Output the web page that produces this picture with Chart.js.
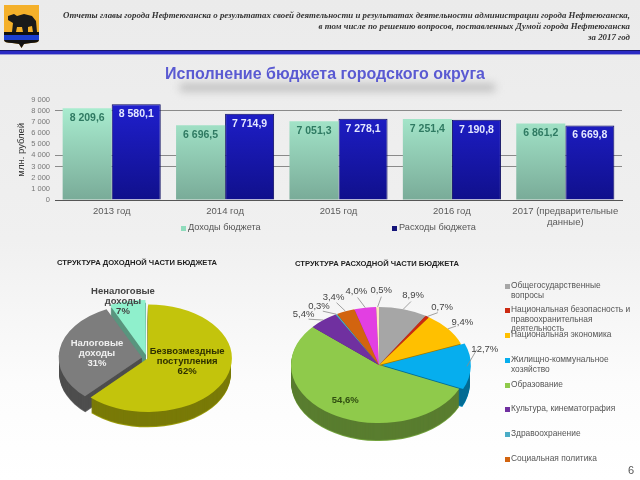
<!DOCTYPE html>
<html lang="ru">
<head>
<meta charset="utf-8">
<title>Исполнение бюджета</title>
<script src="https://cdn.jsdelivr.net/npm/chart.js@4"></script>
<style>
html,body{margin:0;padding:0;}
body{width:640px;height:480px;overflow:hidden;position:relative;font-family:"Liberation Sans",Arial,sans-serif;
  background:linear-gradient(#ebebeb 0,#f0f0f0 50%,#fcfcfc 80%,#fff 100%);filter:blur(0.35px);}
canvas{position:absolute;}
.abs{position:absolute;}
#head{right:10px;top:10px;width:600px;text-align:right;white-space:nowrap;font:italic bold 8.85px/10.8px "Liberation Serif",serif;color:#333;}
#rule{left:0;top:50px;width:640px;height:3px;background:#2a2ac4;border-top:1px solid #15156e;border-bottom:1px solid #9a9ad8;}
#title{left:0;width:650px;top:65px;text-align:center;font:bold 16px "Liberation Sans",sans-serif;color:#5a5ad2;}
#shade{left:180px;top:84px;width:315px;height:7px;background:#b9b9b9;filter:blur(4px);}
.ptitle{font:bold 7.6px "Liberation Sans",sans-serif;color:#222;white-space:nowrap;}
.leg{font-size:8.4px;line-height:9.6px;color:#555;white-space:pre-line;}
.sw{position:absolute;width:5px;height:5px;}
</style>
</head>
<body>
<svg class="abs" style="left:4px;top:5px" width="35" height="43" viewBox="0 0 35 43">
  <path d="M0 0H35V35Q35 38 27 38L20 39L17.500 43L15 39L8 38Q0 38 0 35Z" fill="#f4b02a"/>
  <path d="M0 27H35V35Q35 38 27 38L20 39L17.500 43L15 39L8 38Q0 38 0 35Z" fill="#111"/>
  <rect x="0" y="30" width="35" height="5" fill="#1c3fd0"/>
  <path d="M4 11L10 9L13 11L20 9L28 11L32 16L33 27H29L28 21L24 22L24 27H19L18 22L13 22L12 27H8L9 18L4 15Z" fill="#1a1a1a"/>
</svg>
<div id="head" class="abs">Отчеты главы города Нефтеюганска о результатах своей деятельности и результатах деятельности администрации города Нефтеюганска,<br>в том числе по решению вопросов, поставленных Думой города Нефтеюганска<br>за 2017 год</div>
<div id="rule" class="abs"></div>
<div id="shade" class="abs"></div>
<div id="title" class="abs">Исполнение бюджета городского округа</div>

<canvas id="barChart" width="640" height="145" style="left:0;top:90px"></canvas>
<div id="barLegend"></div>

<div class="abs ptitle" style="left:57px;top:258px">СТРУКТУРА ДОХОДНОЙ ЧАСТИ БЮДЖЕТА</div>
<div class="abs ptitle" style="left:295px;top:259px">СТРУКТУРА РАСХОДНОЙ ЧАСТИ БЮДЖЕТА</div>
<canvas id="incomePie" width="220" height="200" style="left:37px;top:258px"></canvas>
<canvas id="spendPie" width="260" height="220" style="left:249px;top:255px"></canvas>
<div id="pieLegend"></div>
<div class="abs" style="left:628px;top:464px;font-size:11px;color:#555">6</div>

<script>
const years = ['2013 год','2014 год','2015 год','2016 год',['2017 (предварительные','данные)']];
const incomeByYear = [8209.6,6696.5,7051.3,7251.4,6861.2];
const spendByYear = [8580.1,7714.9,7278.1,7190.8,6669.8];
const yTickLabels = ['0','1 000','2 000','3 000','4 000','5 000','6 000','7 000','8 000','9 000'];
const visibleGrid = [3000,4000,8000];

const incomeParts = ['Безвозмездные поступления','Налоговые доходы','Неналоговые доходы'];
const incomeShares = [62,31,7];
const incomeColors = ['#c3c40c','#7d7d7d','#8ff0cc'];

const spendParts = ['Общегосударственные вопросы','Национальная безопасность и правоохранительная деятельность','Национальная экономика','Жилищно-коммунальное хозяйство','Образование','Культура, кинематография','Здравоохранение','Социальная политика','Физическая культура и спорт','Средства массовой информации'];
const spendShares = [8.9,0.7,9.4,12.7,54.6,5.4,0.3,3.4,4.0,0.5];
const spendColors = ['#a6a6a6','#cc2a12','#ffc000','#06aeee','#8fca4b','#7030a0','#4bacc6','#d2640f','#e23fe2','#fbe6bd'];

function fmt(v){ return v.toFixed(1).replace('.',',').replace(/^(\d)(\d{3})/,'$1 $2'); }
function shade(hex,f){
  const n = parseInt(hex.slice(1),16);
  return 'rgb('+Math.round((n>>16)*f)+','+Math.round(((n>>8)&255)*f)+','+Math.round((n&255)*f)+')';
}
function barFill(top,bottom){
  return function(c){
    const area = c.chart.chartArea;
    if(!area) return top;
    const g = c.chart.ctx.createLinearGradient(0,area.top,0,area.bottom);
    g.addColorStop(0,top);
    g.addColorStop(1,bottom);
    return g;
  };
}

// value labels inside the top of each bar
const barLabels = {
  id:'barLabels',
  afterDatasetsDraw(chart){
    const ctx = chart.ctx;
    ctx.save();
    ctx.font = 'bold 10.5px "Liberation Sans"';
    ctx.textAlign = 'center';
    ctx.textBaseline = 'middle';
    chart.data.datasets.forEach((ds,d)=>{
      ctx.fillStyle = d==0 ? '#2f7a62' : '#e4e8ff';
      chart.getDatasetMeta(d).data.forEach((bar,i)=>{
        ctx.fillText(fmt(ds.data[i]),bar.x,bar.y+10);
      });
    });
    ctx.restore();
  }
};

new Chart(document.getElementById('barChart'),{
  type:'bar',
  data:{
    labels:years,
    datasets:[
      {label:'Доходы бюджета',data:incomeByYear,backgroundColor:barFill('#adf2d4','#79ab98'),borderWidth:0,barPercentage:1,categoryPercentage:0.865},
      {label:'Расходы бюджета',data:spendByYear,backgroundColor:barFill('#2020d0','#10108c'),borderColor:'#0a0a60',borderWidth:1,barPercentage:1,categoryPercentage:0.865}
    ]
  },
  options:{
    responsive:false,
    animation:false,
    layout:{padding:{top:8,right:18,left:0,bottom:0}},
    plugins:{legend:{display:false},tooltip:{enabled:false}},
    scales:{
      x:{
        grid:{display:false,drawTicks:false},
        border:{color:'#555'},
        ticks:{color:'#5a5a5a',font:{size:9.5,family:'Liberation Sans',lineHeight:1.15},maxRotation:0,padding:6,autoSkip:false},
        afterFit(s){ s.height = 35; }
      },
      y:{
        min:0,max:9000,
        grid:{color:c=>visibleGrid.includes(c.tick.value)?'#8a8a8a':'transparent',drawTicks:false},
        border:{display:false},
        ticks:{stepSize:1000,autoSkip:false,color:'#777',font:{size:7.5,family:'Liberation Sans'},padding:5,callback:(v,i)=>yTickLabels[i]},
        title:{display:true,text:'млн. рублей',color:'#333',font:{size:9.5,family:'Liberation Sans'},padding:{top:16,bottom:0}},
        afterFit(s){ s.width = 55; }
      }
    }
  },
  plugins:[barLabels]
});

// flattens the pie to an ellipse and draws the darker side wall under it
const tilt = {
  id:'tilt',
  beforeDatasetsDraw(chart,args,opts){
    const ctx = chart.ctx;
    const arcs = chart.getDatasetMeta(0).data;
    const cy = arcs[0].y;
    ctx.save();
    ctx.translate(0,cy);
    ctx.scale(1,opts.squash);
    ctx.translate(0,-cy);
    const order = arcs.map((a,i)=>i).sort((p,q)=>Math.sin((arcs[p].startAngle+arcs[p].endAngle)/2)-Math.sin((arcs[q].startAngle+arcs[q].endAngle)/2));
    for(let k=Math.round(opts.depth);k>0;k--){
      order.forEach(i=>{
        const a = arcs[i];
        const mid = (a.startAngle+a.endAngle)/2;
        const off = (a.options.offset||0)/4;
        const x = a.x+Math.cos(mid)*off;
        const y = a.y+Math.sin(mid)*off+k/opts.squash;
        ctx.beginPath();
        ctx.moveTo(x,y);
        ctx.arc(x,y,a.outerRadius,a.startAngle,a.endAngle);
        ctx.closePath();
        ctx.fillStyle = shade(chart.data.datasets[0].backgroundColor[i],k==Math.round(opts.depth)?0.8:0.62);
        ctx.fill();
      });
    }
  },
  afterDatasetsDraw(chart,args,opts){
    const ctx = chart.ctx;
    ctx.restore();
    const arcs = chart.getDatasetMeta(0).data;
    ctx.save();
    ctx.textAlign = 'center';
    ctx.textBaseline = 'middle';
    opts.labels.forEach((l,i)=>{
      const a = arcs[i];
      const mid = (a.startAngle+a.endAngle)/2;
      const r = a.outerRadius*l.f;
      const x = a.x+Math.cos(mid)*r+(l.dx||0);
      const y = a.y+Math.sin(mid)*r*opts.squash+(l.dy||0);
      if(l.leader){
        ctx.strokeStyle = '#8a8a8a';
        ctx.lineWidth = 0.8;
        ctx.beginPath();
        ctx.moveTo(a.x+Math.cos(mid)*a.outerRadius,a.y+Math.sin(mid)*a.outerRadius*opts.squash);
        ctx.lineTo(x-Math.cos(mid)*8,y-Math.sin(mid)*6);
        ctx.stroke();
      }
      ctx.font = (l.bold===false?'':'bold ')+(l.size||9.5)+'px "Liberation Sans"';
      ctx.fillStyle = l.color;
      l.text.forEach((t,n)=>{
        ctx.fillText(t,x,y+(n-(l.text.length-1)/2)*10);
      });
    });
    ctx.restore();
  }
};

function tiltedPie(id,labels,values,colors,radius,offsets,tiltOpts){
  new Chart(document.getElementById(id),{
    type:'pie',
    data:{labels:labels,datasets:[{data:values,backgroundColor:colors,borderWidth:0,offset:offsets,clip:false}]},
    options:{
      responsive:false,
      animation:false,
      radius:radius,
      plugins:{legend:{display:false},tooltip:{enabled:false},tilt:tiltOpts}
    },
    plugins:[tilt]
  });
}

tiltedPie('incomePie',incomeParts,incomeShares,incomeColors,83,[4,20,20],{
  squash:0.64,depth:16,
  labels:[
    {f:0.52,dy:-7,color:'#2e3000',text:['Безвозмездные','поступления','62%']},
    {f:0.61,color:'#f0f0f0',text:['Налоговые','доходы','31%']},
    {f:1.05,dx:-5,dy:-2,color:'#444',text:['Неналоговые','доходы','7%']}
  ]
});
tiltedPie('spendPie',spendParts,spendShares,spendColors,88,[0,0,0,12,0,0,0,0,0,0],{
  squash:0.66,depth:18,
  labels:[
    {f:1.24,dx:4,leader:true,color:'#444',bold:false,size:9.5,text:['8,9%']},
    {f:1.12,dx:9,dy:-3,leader:true,color:'#444',bold:false,size:9.5,text:['0,7%']},
    {f:1.18,dx:2,leader:true,color:'#444',bold:false,size:9.5,text:['9,4%']},
    {f:1.18,dx:2,dy:-17,leader:true,color:'#444',bold:false,size:9.5,text:['12,7%']},
    {f:0.5,dx:-10,dy:11,color:'#2f4d10',text:['54,6%']},
    {f:1.3,dx:-3,dy:8,leader:true,color:'#444',bold:false,size:9.5,text:['5,4%']},
    {f:1.36,dx:-2,dy:10,leader:true,color:'#444',bold:false,size:9.5,text:['0,3%']},
    {f:1.3,dx:-2,dy:2,leader:true,color:'#444',bold:false,size:9.5,text:['3,4%']},
    {f:1.28,dx:-5,leader:true,color:'#444',bold:false,size:9.5,text:['4,0%']},
    {f:1.28,dx:4,leader:true,color:'#444',bold:false,size:9.5,text:['0,5%']}
  ]
});

// html legends, wrapped and spaced like the slide
const barLegend = document.getElementById('barLegend');
[['Доходы бюджета','#8fdcbc',181],['Расходы бюджета','#14147a',392]].forEach(it=>{
  barLegend.innerHTML += '<span class="sw" style="left:'+it[2]+'px;top:226px;background:'+it[1]+'"></span>'
    +'<div class="abs leg" style="left:'+(it[2]+7)+'px;top:223px;white-space:nowrap;font-size:9.2px">'+it[0]+'</div>';
});
const pieLegend = document.getElementById('pieLegend');
const legendTexts = ['Общегосударственные\nвопросы','Национальная безопасность и\nправоохранительная\nдеятельность','Национальная экономика','Жилищно-коммунальное\nхозяйство','Образование','Культура, кинематография','Здравоохранение','Социальная политика'];
const legendTops = [281,305,330,355,380,404,429,454];
legendTexts.forEach((t,i)=>{
  pieLegend.innerHTML += '<span class="sw" style="left:505px;top:'+(legendTops[i]+3)+'px;background:'+spendColors[i]+'"></span>'
    +'<div class="abs leg" style="left:511px;top:'+legendTops[i]+'px">'+t+'</div>';
});
</script>
</body>
</html>
